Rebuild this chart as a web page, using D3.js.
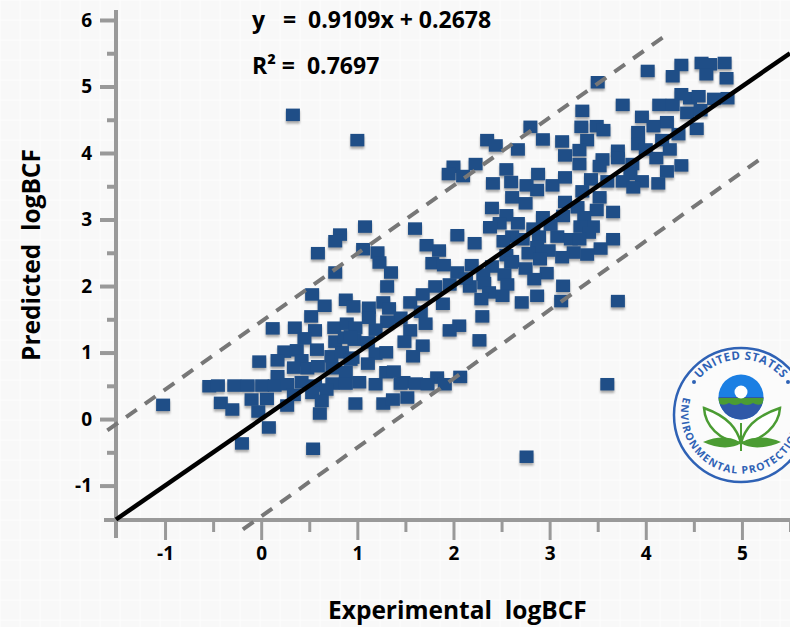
<!DOCTYPE html>
<html>
<head>
<meta charset="utf-8">
<script src="https://cdn.jsdelivr.net/npm/d3@7"></script>
<style>
  html, body { margin: 0; padding: 0; background: #f8f8f8; overflow: hidden; }
  text { font-family: "Open Sans", "Noto Sans", sans-serif; font-weight: 700; fill: #000; white-space: pre; }
</style>
</head>
<body>
<div id="canvas"></div>
<script>
// experimental, predicted logBCF
const points = [
  [4.02,5.23],[4.37,5.32],[4.28,5.15],[4.58,5.35],[4.67,5.33],[4.82,5.35],[4.63,5.18],[4.84,5.12],[3.50,5.06],[4.37,4.88],
  [4.46,4.82],[4.55,4.85],[4.71,4.81],[4.85,4.82],[3.76,4.72],[4.14,4.72],[4.28,4.72],[3.34,4.63],[4.43,4.60],[4.57,4.64],
  [3.96,4.54],[4.22,4.46],[4.08,4.40],[2.80,4.39],[3.33,4.39],[3.49,4.40],[3.56,4.34],[3.92,4.31],[4.53,4.36],[4.34,4.28],
  [2.35,4.19],[2.44,4.11],[2.93,4.20],[3.13,4.17],[3.39,4.19],[3.92,4.13],[4.17,4.19],[2.67,4.05],[3.31,4.04],[3.71,4.03],
  [4.25,4.05],[4.00,4.05],[3.16,3.96],[3.55,3.90],[4.11,3.92],[3.71,3.92],[2.00,3.79],[2.23,3.83],[2.55,3.75],[3.31,3.83],
  [3.52,3.80],[3.86,3.83],[4.37,3.81],[4.22,3.72],[1.95,3.68],[2.10,3.65],[2.88,3.68],[3.16,3.63],[3.84,3.68],[2.41,3.54],
  [2.60,3.56],[2.76,3.51],[2.87,3.44],[3.03,3.51],[3.43,3.60],[3.60,3.57],[3.76,3.57],[3.96,3.57],[4.13,3.54],[3.87,3.48],
  [3.34,3.42],[2.61,3.33],[2.75,3.24],[3.52,3.33],[3.16,3.26],[3.29,3.18],[2.40,3.17],[3.66,3.11],[3.49,3.14],[2.55,3.06],
  [2.93,3.03],[3.14,3.05],[3.36,3.03],[2.48,2.94],[2.67,2.94],[2.38,2.88],[1.60,2.86],[3.01,2.92],[2.83,2.86],[3.45,2.89],
  [3.32,2.89],[3.41,2.80],[2.04,2.76],[2.61,2.74],[2.89,2.74],[3.08,2.74],[2.52,2.67],[2.72,2.70],[3.22,2.70],[3.31,2.70],
  [3.66,2.70],[1.72,2.61],[2.22,2.64],[1.85,2.53],[2.87,2.58],[2.99,2.53],[3.53,2.56],[2.78,2.49],[3.25,2.50],[3.39,2.47],
  [2.55,2.46],[3.13,2.43],[1.78,2.34],[1.90,2.31],[2.19,2.31],[2.61,2.37],[2.90,2.40],[2.40,2.29],[2.60,2.35],[2.75,2.26],
  [2.97,2.19],[2.53,2.17],[2.31,2.17],[2.04,2.20],[2.84,2.10],[2.32,2.04],[2.56,2.02],[1.96,2.02],[2.17,1.99],[2.13,2.11],
  [1.81,1.99],[3.14,2.00],[2.37,1.90],[2.87,1.85],[2.51,1.85],[1.68,1.87],[1.55,1.75],[1.89,1.73],[2.29,1.80],[2.71,1.75],
  [3.12,1.77],[3.71,1.77],[1.66,1.61],[1.45,1.52],[1.71,1.43],[2.30,1.54],[2.06,1.40],[1.96,1.33],[1.55,1.33],[2.27,1.18],
  [1.49,1.16],[1.68,1.10],[1.58,0.94],[1.83,0.62],[2.07,0.63],[1.48,0.55],[1.61,0.53],[1.73,0.52],[1.91,0.52],[1.52,0.32],
  [3.60,0.52],[2.76,-0.57],[0.33,4.57],[1.00,4.19],[1.08,2.89],[0.82,2.77],[0.77,2.67],[0.59,2.49],[1.06,2.55],[1.21,2.50],
  [1.23,2.35],[1.35,2.20],[0.77,2.20],[1.31,1.99],[0.53,1.87],[0.66,1.70],[0.88,1.79],[0.96,1.69],[1.12,1.67],[1.27,1.75],
  [1.33,1.66],[0.52,1.54],[1.12,1.52],[1.31,1.46],[0.12,1.36],[0.35,1.37],[0.56,1.33],[0.76,1.37],[0.89,1.43],[0.98,1.37],
  [1.19,1.34],[0.45,1.21],[0.77,1.16],[0.87,1.22],[0.97,1.19],[1.11,1.15],[0.24,1.01],[0.37,1.03],[0.58,1.04],[0.73,0.94],
  [0.84,1.00],[0.95,0.92],[1.19,0.98],[1.30,1.00],[-0.02,0.86],[0.17,0.88],[0.42,0.88],[0.34,0.77],[0.48,0.76],[0.59,0.79],
  [0.74,0.76],[1.11,0.83],[0.88,0.70],[1.30,0.70],[1.38,0.71],[0.17,0.64],[-0.54,0.49],[-0.45,0.50],[-0.28,0.50],[-0.14,0.50],
  [0.01,0.50],[0.14,0.50],[0.27,0.52],[0.42,0.55],[0.56,0.50],[0.74,0.53],[0.88,0.53],[1.02,0.55],[1.19,0.52],[1.45,0.53],
  [0.68,0.44],[0.34,0.36],[0.53,0.39],[-0.42,0.24],[-0.10,0.29],[0.06,0.30],[0.63,0.27],[-1.02,0.21],[-0.30,0.14],[-0.03,0.11],
  [0.27,0.20],[0.98,0.23],[1.27,0.23],[1.37,0.29],[0.61,0.08],[0.08,-0.13],[-0.20,-0.37],[0.54,-0.45],[0.93,1.24],[0.93,0.89]
];

// reference lines
const fitLine = [[-1.51,-1.51],[5.5,5.5]];
const upperLine = [[-1.6,-0.17],[4.21,5.77]];
const lowerLine = [[-0.19,-1.66],[5.25,3.97]];

const xMajor = [-1,0,1,2,3,4,5];
const xMinor = [-0.5,0.5,1.5,2.5,3.5,4.5,5.5];
const yMajor = [-1,0,1,2,3,4,5,6];
const yMinor = [-0.5,0.5,1.5,2.5,3.5,4.5,5.5];

const xTitle = "Experimental  logBCF";
const yTitle = "Predicted  logBCF";
const equation = "y   =  0.9109x + 0.2678";
const rSquared = "R² =  0.7697";

const width = 790;
const height = 627;

const x = d3.scaleLinear().domain([-1.51, 5.5]).range([116, 790]);
const y = d3.scaleLinear().domain([-1.51, 6.15]).range([519.5, 10]);

const svg = d3.select("#canvas").append("svg")
  .attr("width", width)
  .attr("height", height)
  .style("display", "block");

const defs = svg.append("defs");
const blur = defs.append("filter").attr("id", "soft").attr("x", "-30%").attr("y", "-30%").attr("width", "160%").attr("height", "160%");
blur.append("feGaussianBlur").attr("stdDeviation", 0.8);

// faint background grid
svg.append("rect").attr("width", width).attr("height", height).attr("fill", "#f8f8f8");
const grid = svg.append("g").attr("stroke", "#fdfdfd").attr("stroke-width", 1);
d3.range(0, width, 20).forEach(v => grid.append("line").attr("x1", v).attr("x2", v).attr("y1", 0).attr("y2", height));
d3.range(0, height, 20).forEach(v => grid.append("line").attr("y1", v).attr("y2", v).attr("x1", 0).attr("x2", width));

// axes
const axisColor = "#999";
const tickFont = "'Liberation Sans Narrow', 'Open Sans', sans-serif";
function styleAxis(g, w) {
  g.select(".domain").remove();
  g.selectAll("line").attr("stroke", axisColor).attr("stroke-width", w);
  g.selectAll("text").attr("font-size", 19).style("font-family", tickFont).attr("fill", "#000");
}

svg.append("g").attr("transform", `translate(0,520)`)
  .call(d3.axisBottom(x).tickValues(xMinor).tickSize(12).tickFormat(""))
  .call(styleAxis, 3);
svg.append("g").attr("transform", `translate(0,520)`)
  .call(d3.axisBottom(x).tickValues(xMajor).tickSize(20).tickPadding(7).tickFormat(d => String(d)))
  .call(styleAxis, 3);

svg.append("g").attr("transform", `translate(116,0)`)
  .call(d3.axisLeft(y).tickValues(yMinor).tickSize(9).tickFormat(""))
  .call(styleAxis, 4);
svg.append("g").attr("transform", `translate(116,0)`)
  .call(d3.axisLeft(y).tickValues(yMajor).tickSize(16).tickPadding(8).tickFormat(d => String(d)))
  .call(styleAxis, 4);

// axis spines
svg.append("line").attr("x1", 116).attr("x2", 116).attr("y1", 10).attr("y2", 538).attr("stroke", axisColor).attr("stroke-width", 4);
svg.append("line").attr("x1", 104).attr("x2", 790).attr("y1", 520).attr("y2", 520).attr("stroke", axisColor).attr("stroke-width", 4);

// points
const dots = svg.append("g");
dots.selectAll("rect.shadow").data(points).enter().append("rect")
  .attr("class", "shadow")
  .attr("x", d => x(d[0]) - 7)
  .attr("y", d => y(d[1]) - 4)
  .attr("width", 14)
  .attr("height", 12.5)
  .attr("fill", "#aaa")
  .attr("filter", "url(#soft)");
dots.selectAll("rect.mark").data(points).enter().append("rect")
  .attr("class", "mark")
  .attr("x", d => x(d[0]) - 7)
  .attr("y", d => y(d[1]) - 6.5)
  .attr("width", 14)
  .attr("height", 12.5)
  .attr("fill", "#1f4e87");

// lines
const line = d3.line().x(d => x(d[0])).y(d => y(d[1]));
svg.append("path").attr("d", line(upperLine)).attr("fill", "none").attr("stroke", "#777").attr("stroke-width", 4).attr("stroke-dasharray", "13,10");
svg.append("path").attr("d", line(lowerLine)).attr("fill", "none").attr("stroke", "#777").attr("stroke-width", 4).attr("stroke-dasharray", "13,10");
svg.append("path").attr("d", line(fitLine)).attr("fill", "none").attr("stroke", "#000").attr("stroke-width", 4.5);

// titles and equation
svg.append("text").attr("x", 328).attr("y", 619).attr("font-size", 24.5).text(xTitle);
svg.append("text").attr("transform", "translate(40,361) rotate(-90)").attr("font-size", 24.5).text(yTitle);
svg.append("text").attr("x", 252).attr("y", 28).attr("font-size", 23).text(equation);
svg.append("text").attr("x", 252).attr("y", 74).attr("font-size", 23).text(rSquared);

// EPA seal
const sealBlue = "#2f62b5";
const sealGreen = "#4b9c33";
const seal = svg.append("g").attr("transform", "translate(741,415)");
seal.append("circle").attr("r", 67).attr("fill", "#fbfbfb").attr("stroke", sealBlue).attr("stroke-width", 2.5);
seal.append("circle").attr("cy", -18).attr("r", 22.5).attr("fill", "#1b7fe3");
defs.append("clipPath").attr("id", "globe").append("circle").attr("cy", -18).attr("r", 22.5);
const globe = seal.append("g").attr("clip-path", "url(#globe)");
globe.append("rect").attr("x", -24).attr("y", -18).attr("width", 48).attr("height", 24).attr("fill", "#2f58a8");
globe.append("path").attr("d", "M-24,-17H24V-13Q18,-8 12,-12Q6,-8 0,-12Q-6,-8 -12,-12Q-18,-8 -24,-13Z").attr("fill", sealGreen);
seal.append("circle").attr("cy", -23).attr("r", 6.5).attr("fill", "#fff");
const leaves = "M0,28C-4,14 -12,2 -37,-7C-36,10 -22,26 0,28Z M0,28C4,14 12,2 39,-7C38,10 22,26 0,28Z";
seal.append("path").attr("d", leaves).attr("fill", "#fff").attr("stroke", sealGreen).attr("stroke-width", 2.5);
seal.append("path").attr("d", "M-38,27C-22,20 -8,22 0,28C8,22 24,20 40,27C24,34 8,34 0,28C-8,34 -24,34 -38,27Z").attr("fill", sealGreen);
seal.append("line").attr("y1", 8).attr("y2", 36).attr("stroke", sealGreen).attr("stroke-width", 2);
defs.append("path").attr("id", "arcTop").attr("d", "M-50,-22A54,54 0 0 1 50,-22");
defs.append("path").attr("id", "arcBottom").attr("d", "M-57,-20A60,60 0 1 0 57,-20");
seal.append("text").attr("font-size", 11.5).attr("letter-spacing", 0.6).style("fill", sealBlue).append("textPath").attr("href", "#arcTop").attr("startOffset", "50%").attr("text-anchor", "middle").text("UNITED STATES");
seal.append("text").attr("font-size", 10.5).attr("letter-spacing", 1.2).style("fill", sealBlue).append("textPath").attr("href", "#arcBottom").attr("startOffset", "1%").text("ENVIRONMENTAL PROTECTION");
seal.append("circle").attr("cx", -47).attr("cy", -33).attr("r", 2).attr("fill", sealBlue);
seal.append("circle").attr("cx", 47).attr("cy", -33).attr("r", 2).attr("fill", sealBlue);
</script>
</body>
</html>
